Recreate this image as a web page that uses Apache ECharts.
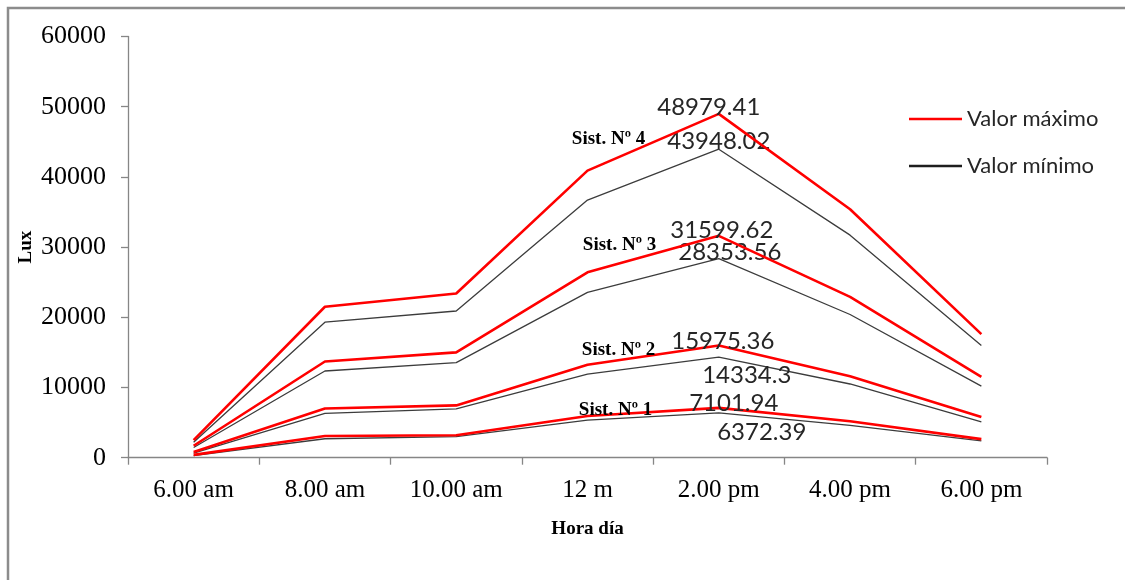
<!DOCTYPE html>
<html>
<head>
<meta charset="utf-8">
<script src="https://cdn.jsdelivr.net/npm/echarts@6/dist/echarts.min.js"></script>
<style>
  html, body { margin: 0; padding: 0; background: #fff; }
  #chart { width: 1125px; height: 580px; }
</style>
</head>
<body>
<div id="chart"></div>
<script>
// Hours of the day
const categories = ['6.00 am', '8.00 am', '10.00 am', '12 m', '2.00 pm', '4.00 pm', '6.00 pm'];
const yTicks = [0, 10000, 20000, 30000, 40000, 50000, 60000];

// Illuminance (lux) per system: maximum and minimum readings
const sist1Max = [400, 3100, 3200, 5950, 7101.94, 5200, 2650];
const sist1Min = [300, 2700, 3000, 5350, 6372.39, 4600, 2400];
const sist2Max = [800, 7000, 7450, 13250, 15975.36, 11600, 5800];
const sist2Min = [650, 6300, 6950, 11900, 14334.3, 10500, 5100];
const sist3Max = [1700, 13700, 15000, 26400, 31599.62, 22900, 11500];
const sist3Min = [1450, 12350, 13550, 23550, 28353.56, 20400, 10200];
const sist4Max = [2500, 21500, 23400, 40900, 48979.41, 35400, 17600];
const sist4Min = [2200, 19300, 20900, 36700, 43948.02, 31700, 16000];

const systemNames = ['Sist. Nº 1', 'Sist. Nº 2', 'Sist. Nº 3', 'Sist. Nº 4'];
const maxName = 'Valor máximo';
const minName = 'Valor mínimo';

const PEAK = 4;   // index of 2.00 pm
const NOON = 3;   // index of 12 m

const valueFont = { fontFamily: 'Lato', fontSize: 24, color: '#262626' };
const sistFont = { fontFamily: 'Liberation Serif', fontSize: 19, fontWeight: 'bold', color: '#000' };

// Label offsets (px) for the peak values and the system captions
const peakOffsetMax = [[15, -5], [4, -4], [3, -6], [-10, -7]];
const peakOffsetMin = [[43, 19], [28, 18], [11, -6], [0, -7.5]];
const sistOffset = [[28, -6], [31, -15], [32, -27], [21, -31]];

function buildData(values, peakOffset, sistIdx) {
  return values.map((v, i) => {
    const item = { value: v };
    if (i === PEAK) {
      item.label = Object.assign({
        show: true, position: 'inside', align: 'center', verticalAlign: 'middle',
        offset: peakOffset, formatter: String(v)
      }, valueFont);
    } else if (sistIdx !== null && i === NOON) {
      item.label = Object.assign({
        show: true, position: 'inside', align: 'center', verticalAlign: 'middle',
        offset: sistOffset[sistIdx], formatter: systemNames[sistIdx]
      }, sistFont);
    }
    return item;
  });
}

function lineSeries(name, values, color, width, peakOffset, sistIdx, z) {
  return {
    name: name,
    type: 'line',
    data: buildData(values, peakOffset, sistIdx),
    symbol: 'circle',
    symbolSize: 0.1,
    showSymbol: true,
    itemStyle: { color: color },
    lineStyle: { color: color, width: width },
    emphasis: { disabled: true },
    animation: false,
    z: z
  };
}

const maxSets = [sist1Max, sist2Max, sist3Max, sist4Max];
const minSets = [sist1Min, sist2Min, sist3Min, sist4Min];
const series = [];
for (let s = 0; s < 4; s++) {
  series.push(lineSeries(maxName, maxSets[s], '#ff0000', 2.6, peakOffsetMax[s], s, 3));
  series.push(lineSeries(minName, minSets[s], '#3c3c3c', 1.3, peakOffsetMin[s], null, 2));
}

const chart = echarts.init(document.getElementById('chart'), null, { renderer: 'canvas' });
chart.setOption({
  backgroundColor: '#fff',
  animation: false,
  graphic: [{
    type: 'rect',
    shape: { x: 8, y: 8, width: 1400, height: 800 },
    style: { fill: 'none', stroke: '#8c8c8c', lineWidth: 2.5 },
    silent: true
  }],
  grid: { left: 128, right: 78, top: 36.5, bottom: 122.3, containLabel: false },
  legend: {
    data: [
      { name: maxName, icon: 'rect', itemStyle: { color: '#ff0000' } },
      { name: minName, icon: 'rect', itemStyle: { color: '#1e1e1e' } }
    ],
    orient: 'vertical',
    left: 909,
    top: 106,
    padding: 0,
    itemWidth: 53,
    itemHeight: 2.4,
    itemGap: 21,
    textStyle: { fontFamily: 'Lato', fontSize: 22, lineHeight: 26, color: '#262626' },
    selectedMode: false
  },
  xAxis: {
    type: 'category',
    data: categories,
    boundaryGap: true,
    name: 'Hora día',
    nameLocation: 'middle',
    nameGap: 62,
    nameTextStyle: { fontFamily: 'Liberation Serif', fontSize: 19, fontWeight: 'bold', color: '#000' },
    axisLine: { lineStyle: { color: '#868686', width: 1.3 } },
    axisTick: { show: true, alignWithLabel: false, length: 7, lineStyle: { color: '#868686', width: 1.3 } },
    axisLabel: { fontFamily: 'Liberation Serif', fontSize: 25, color: '#000', margin: 20, interval: 0 },
    splitLine: { show: false }
  },
  yAxis: {
    type: 'value',
    min: yTicks[0],
    max: yTicks[yTicks.length - 1],
    interval: yTicks[1] - yTicks[0],
    name: 'Lux',
    nameLocation: 'middle',
    nameRotate: 90,
    nameGap: 92,
    nameMoveOverlap: false,
    nameTextStyle: { fontFamily: 'Liberation Serif', fontSize: 19, fontWeight: 'bold', color: '#000' },
    axisLine: { show: true, lineStyle: { color: '#868686', width: 1.3 } },
    axisTick: { show: true, length: 7, lineStyle: { color: '#868686', width: 1.3 } },
    axisLabel: {
      fontFamily: 'Liberation Serif', fontSize: 26, color: '#000', margin: 22,
      formatter: (v) => String(v)
    },
    splitLine: { show: false }
  },
  series: series
});
</script>
</body>
</html>
